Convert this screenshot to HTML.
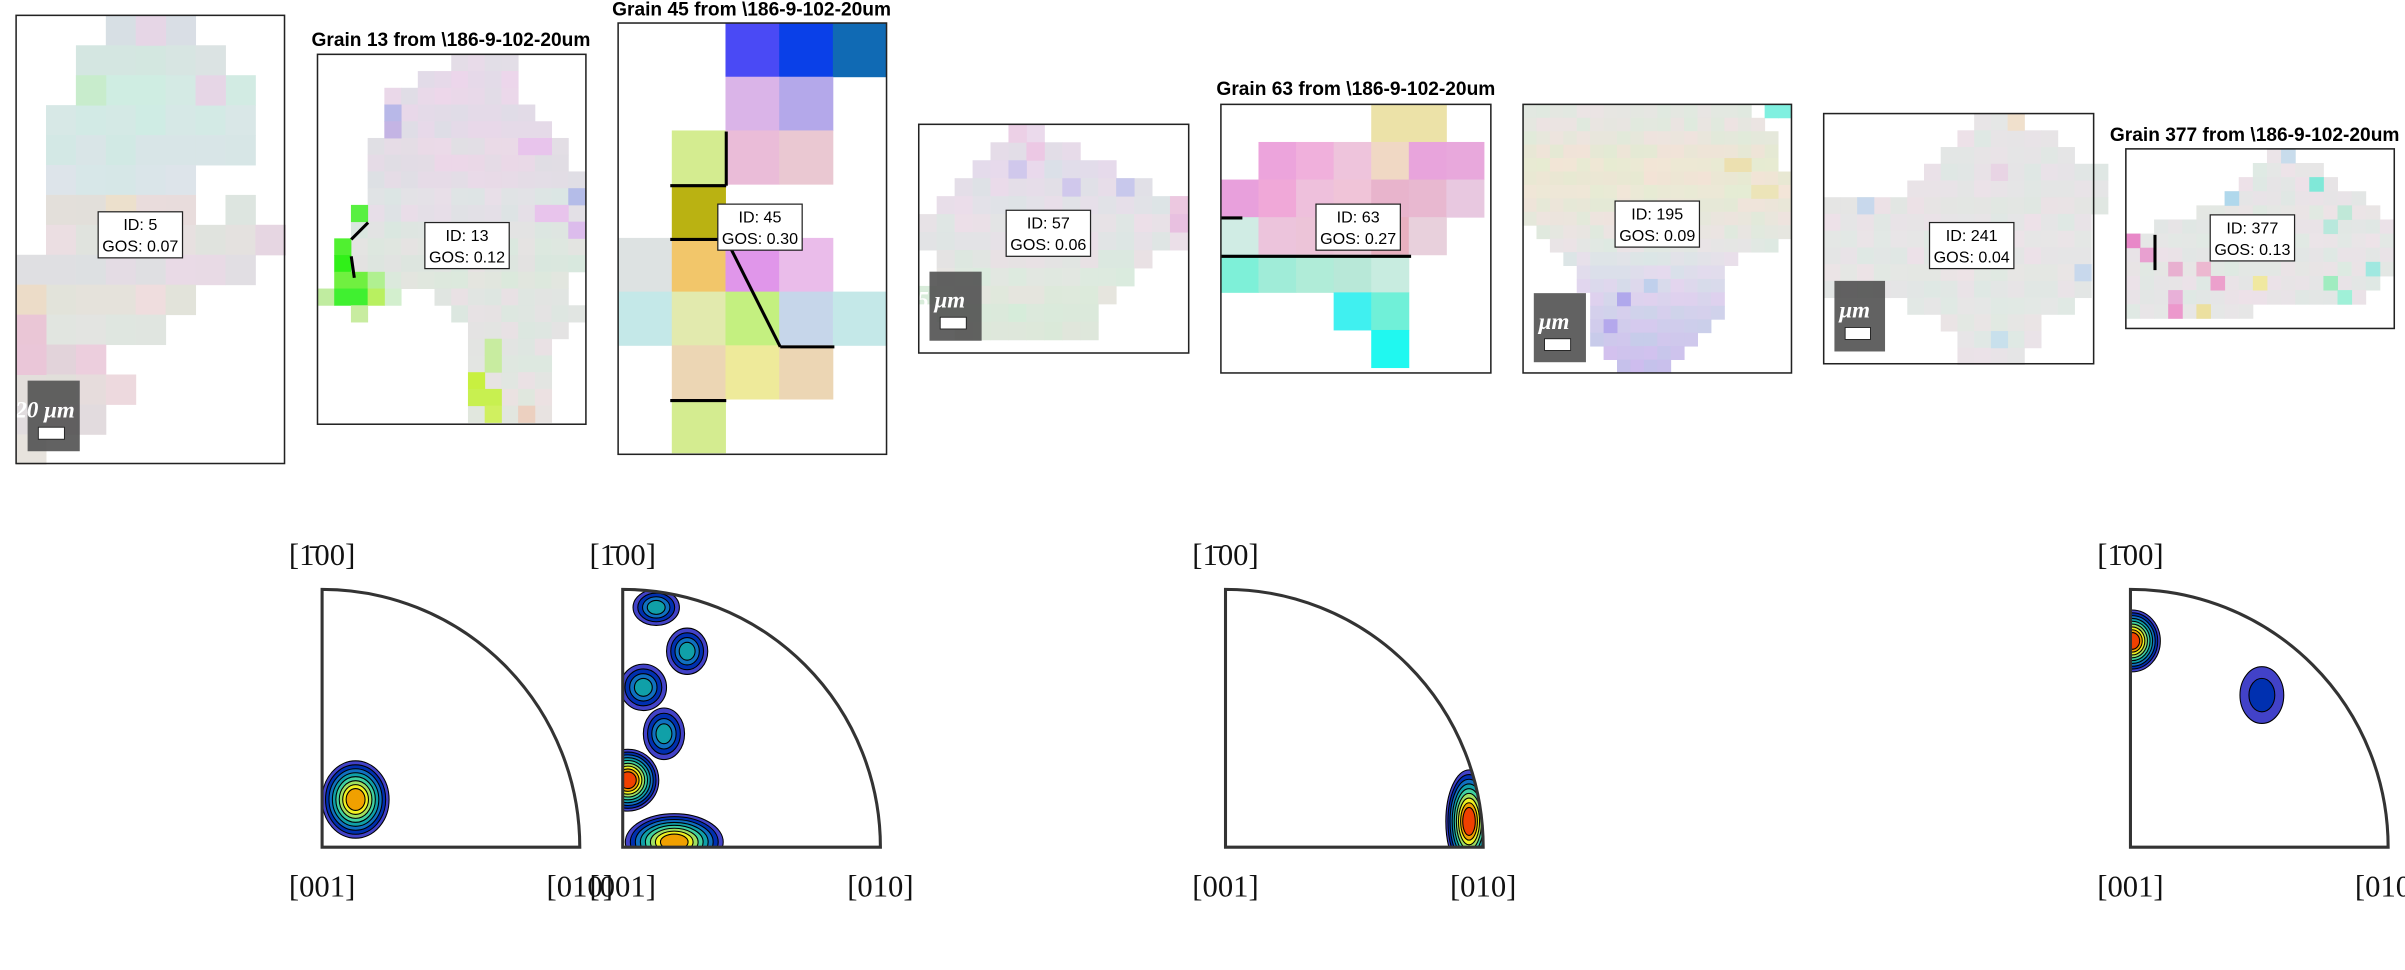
<!DOCTYPE html>
<html><head><meta charset="utf-8"><style>
html,body{margin:0;padding:0;background:#fff;}
svg{display:block;}
.t{font-family:"Liberation Sans",sans-serif;font-weight:bold;font-size:12.5px;fill:#000;}
.b{font-family:"Liberation Sans",sans-serif;font-size:10.5px;fill:#000;}
.m{font-family:"Liberation Serif",serif;font-size:20px;fill:#111;}
.s{font-family:"Liberation Serif",serif;font-style:italic;font-weight:bold;font-size:15px;fill:#fff;}
</style></head><body>
<svg id="root" width="2405" height="970" viewBox="0 0 1568 632" preserveAspectRatio="none" xmlns="http://www.w3.org/2000/svg">
<g id="maps"></g>
<g id="pfs"></g>
</svg>
<script>
// ---- Pole figure data ----
const pfOriginX = [210, 406, 799, 1389];
const pfOriginY = 552;
const pfRadius = 168;
const blobPanel = [0, 1, 1, 1, 1, 1, 1, 2, 3, 3];
const blobU = [0.13, 0.13, 0.25, 0.08, 0.16, 0.02, 0.2, 0.945, 0.006, 0.51];
const blobV = [0.185, 0.93, 0.76, 0.62, 0.44, 0.26, 0.02, 0.10, 0.80, 0.59];
const blobRx = [0.13, 0.09, 0.08, 0.09, 0.08, 0.12, 0.19, 0.09, 0.11, 0.085];
const blobRy = [0.15, 0.07, 0.09, 0.09, 0.10, 0.12, 0.11, 0.20, 0.12, 0.11];
const blobLevels = [8, 4, 4, 4, 4, 9, 8, 9, 9, 2];
const jet = ['#4242c8','#0030b0','#1070c0','#10a0a8','#40d0a0','#a0e060','#f0f020','#f0a000','#f04000'];

const NS = 'http://www.w3.org/2000/svg';
function mk(tag, attrs, parent){ const e=document.createElementNS(NS,tag); for(const k in attrs) e.setAttribute(k,attrs[k]); parent.appendChild(e); return e; }
const maps = document.getElementById('maps');
const pfs = document.getElementById('pfs');

function hash(a,b){ let h=(a*73856093)^(b*19349663); h=(h^(h>>>13))*1274126177; return ((h>>>0)%1000)/1000; }
function tint(hex, a, b){
  const v = Math.round((hash(a,b)-0.5)*14);
  let r=parseInt(hex.substr(1,2),16)+v, g=parseInt(hex.substr(3,2),16)-v/2, bl=parseInt(hex.substr(5,2),16)+v/3;
  const c=x=>Math.max(0,Math.min(255,Math.round(x))).toString(16).padStart(2,'0');
  return '#'+c(r)+c(g)+c(bl);
}
function grid(g, ox, oy, cs, rows, overrides){
  rows.forEach(([r,c0,c1,col])=>{ for(let c=c0;c<=c1;c++){
    const e=mk('rect',{x:ox+c*cs,y:oy+r*cs,width:cs+0.3,height:cs+0.3,fill:tint(col,r+ox,c)},g);
    
    
  }});
  (overrides||[]).forEach(([r,c0,c1,col])=>{ for(let c=c0;c<=c1;c++){
    const e=mk('rect',{x:ox+c*cs,y:oy+r*cs,width:cs+0.3,height:cs+0.3,fill:col},g);
    
    
  }});
}
function panel(name,x,y,w,h,title,tx,ty){
  const g=mk('g',{},maps);
  
  
  const cells=mk('g',{},g);
  if(title){ const t=mk('text',{x:tx,y:ty,'text-anchor':'middle',class:'t'},g); t.textContent=title;
      }
  return {g,cells,frame:()=>{const f=mk('rect',{x:x,y:y,width:w,height:h,fill:'none',stroke:'#222','stroke-width':1},g);
     }};
}
function idbox(g,x,y,id,gos){
  const b=mk('g',{},g);
  
  
  mk('rect',{x:x,y:y,width:55,height:30,fill:'#fff',stroke:'#222','stroke-width':0.8},b);
  const t1=mk('text',{x:x+27.5,y:y+12,'text-anchor':'middle',class:'b'},b); t1.textContent='ID: '+id;
  const t2=mk('text',{x:x+27.5,y:y+26,'text-anchor':'middle',class:'b'},b); t2.textContent='GOS: '+gos;
}
function scalebar(g,x,y,w,h,label){
  const b=mk('g',{},g);
  
  
  mk('rect',{x:x,y:y,width:w,height:h,fill:'#555',opacity:0.92},b);
  const t=mk('text',{x:x-8,y:y+h*0.52,class:'s'},b); t.textContent=label;
  mk('rect',{x:x+7,y:y+h*0.66,width:w*0.5,height:h*0.17,fill:'#fff',stroke:'#222','stroke-width':0.6},b);
}
function lines(g,pts){ pts.forEach(p=>{ const l=mk('line',{x1:p[0],y1:p[1],x2:p[2],y2:p[3],stroke:'#000','stroke-width':2},g);
    }); }

// Panel 1
let P=panel('grain-5-map',10.5,10,175,292);
grid(P.cells,10.5,10,19.5,[[0,3,5,'#dcdce6'],[1,2,6,'#d8e4e2'],[2,2,7,'#d4eae4'],[3,1,7,'#d6e8e6'],[4,1,7,'#d6e6e6'],[5,1,5,'#d8e6e8'],[6,1,5,'#e8dcdc'],[6,7,7,'#e2e2e2'],[7,1,8,'#e6e0e0'],[8,0,7,'#e4dce4'],[9,0,5,'#e8e0dc'],[10,0,4,'#e6e2e2'],[11,0,2,'#e8d0dc'],[12,0,3,'#e6dcdc'],[13,0,2,'#e8d8e0'],[14,0,0,'#e4e4dc']],
  [[0,4,4,'#e6d6e6'],[2,2,2,'#c8eccc'],[2,6,6,'#e6d6e6'],[9,0,0,'#ecdcc8'],[10,0,0,'#eac6d6'],[11,0,0,'#eac6d8'],[7,8,8,'#e6d6e2'],[6,3,3,'#ece0cc']]);
scalebar(P.g,18,248,34,46,'20 μm');
idbox(P.g,64,138,5,'0.07');
P.frame();

// Panel 2
P=panel('grain-13-map',207,35.4,175,241,'Grain 13 from \\186-9-102-20um',294,30);
grid(P.cells,207,35.4,10.9,[[0,8,11,'#e6dce8'],[1,6,11,'#e8d8ea'],[2,4,11,'#e6dae8'],[3,4,12,'#e4dae8'],[4,4,13,'#e4dae8'],[5,3,14,'#e6dce6'],[6,3,14,'#e6dae6'],[7,3,15,'#e4dce6'],[8,3,15,'#e2e2e6'],[9,3,15,'#e2e0e6'],[10,2,15,'#e0e4e2'],[11,2,15,'#dfe6e0'],[12,2,15,'#dfe4e0'],[13,4,14,'#dde8dd'],[14,4,4,'#d8ecd0'],[14,7,14,'#e2e4e2'],[15,8,15,'#e2e4e2'],[16,9,14,'#e2e4e2'],[17,9,13,'#e2e4e2'],[18,9,13,'#e4e4e2'],[19,9,13,'#e4e4e2'],[20,9,13,'#e6e4e0'],[21,9,13,'#e6e4e0']],
  [[9,2,2,'#58f040'],[11,1,1,'#50f030'],[12,1,1,'#30f018'],[13,1,2,'#70f040'],[13,3,3,'#b0f090'],[14,0,0,'#c0eca0'],[14,1,2,'#40f030'],[14,3,3,'#b8f060'],[15,2,2,'#c8eca0'],[19,9,9,'#c8f040'],[20,9,10,'#c8f050'],[21,10,10,'#d0f060'],[21,12,12,'#ecd0c0'],[17,10,10,'#c8eca0'],[18,10,10,'#c8eca0'],[3,4,4,'#b8b8e8'],[4,4,4,'#c4b4e4'],[8,15,15,'#b4bce8'],[5,12,13,'#e8c4ec'],[9,13,14,'#e8c4ec'],[10,15,15,'#dcbcec']]);
lines(P.g,[[229,156,240,145],[229,167,231,181]]);
idbox(P.g,277,145,13,'0.12');
P.frame();

// Panel 3
P=panel('grain-45-map',403,15,175,281,'Grain 45 from \\186-9-102-20um',490,10);
const c3=[[0,2,2,'#4a4af5'],[0,3,3,'#0a40e8'],[0,4,4,'#106ab4'],[1,2,2,'#dab4e8'],[1,3,3,'#b4a8ea'],[2,1,1,'#d4ec90'],[2,2,2,'#eabcd8'],[2,3,3,'#eac8d2'],[3,1,1,'#bab212'],[4,0,0,'#dde2e2'],[4,1,1,'#f2c66a'],[4,2,2,'#e096ea'],[4,3,3,'#eabcea'],[5,0,0,'#c4e8e8'],[5,1,1,'#e2eaae'],[5,2,2,'#c4f080'],[5,3,3,'#c6d6ea'],[5,4,4,'#c4e8e8'],[6,1,1,'#ecd6b4'],[6,2,2,'#eeea9a'],[6,3,3,'#ecd6b4'],[7,1,1,'#d4ec90']];
grid(P.cells,403,15,35,[],c3);
lines(P.g,[[473.5,85.7,473.5,121],[437,121,473.5,121],[437,156,473.5,156],[473.5,156,508.7,226],[508.7,226,544,226],[437,261,473.5,261]]);
idbox(P.g,468,133,45,'0.30');
P.frame();

// Panel 4
P=panel('grain-57-map',599,81,176,149);
grid(P.cells,599,81,11.7,[[0,5,6,'#e6dcea'],[1,4,8,'#e4dce8'],[2,3,10,'#e2dcea'],[3,2,12,'#e4dee8'],[4,1,14,'#e4e0e8'],[5,0,14,'#e6e2e6'],[6,0,14,'#e4e2e6'],[7,1,12,'#e2e4e2'],[8,1,11,'#e0e8e0'],[9,0,10,'#dfe8dc'],[10,1,9,'#dde8dc'],[11,2,9,'#dce8da']],
  [[2,5,5,'#d0c8ec'],[3,8,8,'#d0c8ec'],[3,11,11,'#c8c8ec'],[4,14,14,'#ecc8e0'],[5,14,14,'#e8c0e0'],[1,6,6,'#ecc8e4'],[0,5,5,'#ecd0e6']]);
scalebar(P.g,606,177,34,45,'5 μm');
idbox(P.g,656,137,57,'0.06');
P.frame();

// Panel 5
P=panel('grain-63-map',796,68,176,175,'Grain 63 from \\186-9-102-20um',884,62);
grid(P.cells,796,68,24.5,[],[[0,4,5,'#ece2a8'],[1,1,1,'#eca4dc'],[1,2,2,'#f0b0dc'],[1,3,3,'#eec4dc'],[1,4,4,'#f0d8c4'],[1,5,5,'#e8a4dc'],[1,6,6,'#e8a8dc'],[2,0,0,'#e8a0dc'],[2,1,1,'#f0a8d8'],[2,2,2,'#eec0dc'],[2,3,3,'#f0c4d8'],[2,4,4,'#e8b4cc'],[2,5,5,'#e8b8d0'],[2,6,6,'#e8c8e0'],[3,0,0,'#d0ece4'],[3,1,1,'#ecc4dc'],[3,2,2,'#ecc4d8'],[3,3,3,'#ecc8d8'],[3,4,4,'#e8b0c0'],[3,5,5,'#e8d0dc'],[4,0,0,'#7ef0d8'],[4,1,1,'#a0ecd8'],[4,2,2,'#b0ecd8'],[4,3,3,'#b8e8d8'],[4,4,4,'#c8ece0'],[5,3,3,'#40f0f0'],[5,4,4,'#70f0d8'],[6,4,4,'#20f8f0']]);
lines(P.g,[[796,142,810,142],[796,167,920,167]]);
idbox(P.g,858,133,63,'0.27');
P.frame();

// Panel 6
P=panel('grain-195-map',993,68,175,175);
grid(P.cells,993,68,8.75,[[0,0,16,'#e6e6e2'],[1,0,17,'#e6e6e0'],[2,0,18,'#e8e6dc'],[3,0,18,'#eae6d6'],[4,0,18,'#ece8d4'],[5,0,19,'#ece6d4'],[6,0,19,'#ece8d6'],[7,0,19,'#eae6d8'],[8,0,19,'#e8e6dc'],[9,1,19,'#e6e6e0'],[10,2,18,'#e4e6e4'],[11,3,15,'#e2e2e8'],[12,4,14,'#e0dcec'],[13,4,14,'#dcd8ec'],[14,5,14,'#d8d4ec'],[15,5,14,'#d4d0ec'],[16,5,13,'#d0ccec'],[17,5,12,'#cec8ec'],[18,6,11,'#ccc4ec'],[19,7,10,'#c8c0ec']],
  [[0,18,19,'#80f0e0'],[14,7,7,'#b0a8ec'],[16,6,6,'#b4a8ec'],[13,9,9,'#c0d0ec'],[4,15,16,'#ece0b0'],[6,17,18,'#ece4b8']]);
scalebar(P.g,1000,191,34,45,'5 μm');
idbox(P.g,1053,131,195,'0.09');
P.frame();

// Panel 7
P=panel('grain-241-map',1189,74,176,163);
grid(P.cells,1189,74,10.9,[[0,9,11,'#e6e6e6'],[1,8,13,'#e6e4e6'],[2,7,14,'#e6e4e6'],[3,6,16,'#e4e4e6'],[4,5,16,'#e6e4e6'],[5,0,16,'#e6e4e4'],[6,0,15,'#e6e4e6'],[7,0,15,'#e6e6e6'],[8,0,15,'#e6e4e6'],[9,0,15,'#e6e6e4'],[10,0,15,'#e6e4e6'],[11,5,14,'#e6e6e6'],[12,7,12,'#e6e6e4'],[13,8,12,'#e4e6e6'],[14,8,11,'#e6e4e6']],
  [[0,11,11,'#f0e0cc'],[5,2,2,'#c8d8ec'],[9,15,15,'#c8d8ec'],[13,10,10,'#c8e0ec'],[3,10,10,'#e8d4e4']]);
scalebar(P.g,1196,183,33,46,'5 μm');
idbox(P.g,1258,145,241,'0.04');
P.frame();

// Panel 8
P=panel('grain-377-map',1386,97,175,117,'Grain 377 from \\186-9-102-20um',1470,92);
grid(P.cells,1386,97,9.2,[[0,10,11,'#e6e6e6'],[1,9,13,'#e6e6e6'],[2,8,14,'#e6e4e6'],[3,7,16,'#e6e4e6'],[4,5,17,'#e6e6e4'],[5,2,18,'#e6e4e6'],[6,0,18,'#e6e6e6'],[7,0,18,'#e6e4e6'],[8,0,18,'#e4e6e4'],[9,0,17,'#e6e4e6'],[10,0,16,'#e6e4e6'],[11,0,8,'#e6e6e6']],
  [[0,11,11,'#c8dcec'],[2,13,13,'#80e8d8'],[3,7,7,'#b0d8ec'],[4,15,15,'#c0e8d8'],[5,14,14,'#b8e8dc'],[6,0,0,'#e888c8'],[7,1,1,'#e8a0d0'],[8,3,3,'#e8b0d0'],[8,5,5,'#ecb8d0'],[9,6,6,'#eca0cc'],[9,9,9,'#f0e8a0'],[10,3,3,'#e8b0d8'],[11,3,3,'#ec98cc'],[11,5,5,'#ece0a0'],[9,14,14,'#a0ecc0'],[10,15,15,'#a0f0d8'],[8,17,17,'#a0e8e0'],[5,6,6,'#80b0ec']]);
lines(P.g,[[1405,153,1405,176]]);
idbox(P.g,1441,140,377,'0.13');
P.frame();

// ---- Pole figures ----
const R=pfRadius, oy=pfOriginY;
pfOriginX.forEach((ox,i)=>{
  const g=mk('g',{},pfs);
  
  
  const d=`M${ox},${oy} L${ox},${oy-R} A${R},${R} 0 0 1 ${ox+R},${oy} Z`;
  const cp=mk('clipPath',{id:'cp'+i},g); mk('path',{d:d},cp);
  const bg=mk('g',{'clip-path':`url(#cp${i})`},g);
  blobPanel.forEach((p,j)=>{ if(p!==i) return;
    const cx=ox+blobU[j]*R, cy=oy-blobV[j]*R, L=blobLevels[j];
    for(let k=0;k<L;k++){
      const f=1-k/L*0.82;
      const e=mk('ellipse',{cx:cx,cy:cy,rx:blobRx[j]*R*f,ry:blobRy[j]*R*f,fill:jet[k],stroke:'#000','stroke-width':0.7},bg);
      
      
    }
  });
  const ol=mk('path',{d:d,fill:'none',stroke:'#333','stroke-width':2},g);
  
  
  const labs=[['[1̄00]',ox,oy-R-16],['[001]',ox,oy+32],['[010]',ox+R,oy+32]];
  labs.forEach(l=>{ const t=mk('text',{x:l[1],y:l[2],'text-anchor':'middle',class:'m'},g); t.textContent=l[0];
      });
});
</script>
</body></html>
